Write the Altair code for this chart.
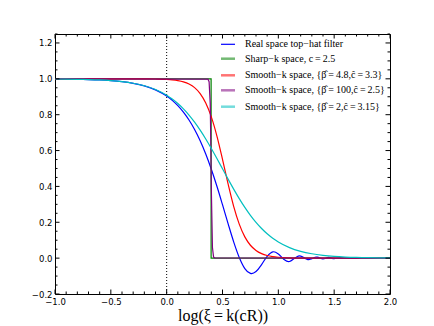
import altair as alt
import pandas as pd

# ---- data (x = log(xi), y = window function W) ----
tophat_L = [-1.0, -0.9, -0.8, -0.7, -0.6, -0.5, -0.4, -0.3, -0.2, -0.1, 0.0,
            0.05, 0.1, 0.15, 0.2, 0.25, 0.3, 0.35, 0.4, 0.45, 0.5, 0.55, 0.6,
            0.65, 0.7, 0.75, 0.7606, 0.8, 0.85, 0.9, 0.95, 0.9588, 1.0, 1.05,
            1.0907, 1.1, 1.15, 1.1907, 1.2, 1.25, 1.2716, 1.3, 1.3395, 1.35,
            1.4, 1.45, 1.5, 1.55, 1.6, 1.65, 1.7, 1.75, 1.8, 1.85, 1.9, 1.95, 2.0]
tophat_W = [0.9990, 0.9984, 0.9975, 0.9960, 0.9937, 0.9900, 0.9842, 0.9751, 0.9608,
            0.9383, 0.9036, 0.8796, 0.8502, 0.8142, 0.7703, 0.7175, 0.6546, 0.5807,
            0.4958, 0.4007, 0.2980, 0.1923, 0.0910, 0.0039, -0.0580, -0.0853,
            -0.0862, -0.0750, -0.0358, 0.0102, 0.0350, 0.0356, 0.0235, -0.0074,
            -0.0196, -0.0189, 0.0009, 0.0124, 0.0117, -0.0051, -0.0086, -0.0031,
            0.0063, 0.0054, -0.0048, 0.0038, -0.0029, 0.0014, 0.0010, -0.0011,
            -0.0012, -0.0009, -0.0007, 0.0001, 0.0003, -0.0002, -0.0003]

sharp_L = [-1.0, 0.398, 0.398, 2.0]
sharp_W = [1.0, 1.0, 0.0, 0.0]

smooth48_L = [-1.0, -0.5, -0.3, -0.2, -0.1, 0.0, 0.05, 0.1, 0.15, 0.2, 0.25, 0.3,
              0.35, 0.4, 0.45, 0.5, 0.55, 0.6, 0.65, 0.7, 0.75, 0.8, 0.85, 0.9,
              0.95, 1.0, 1.1, 1.2, 1.4, 2.0]
smooth48_W = [1.0, 1.0, 0.9999, 0.9996, 0.9989, 0.9968, 0.9944, 0.9903, 0.9833,
              0.9712, 0.9511, 0.9180, 0.8656, 0.7876, 0.6807, 0.5510, 0.4139,
              0.2889, 0.1895, 0.1186, 0.0719, 0.0427, 0.0250, 0.0145, 0.0084,
              0.0049, 0.0016, 0.0005, 0.0001, 0.0]

smooth100_L = [-1.0, 0.37, 0.38, 0.39, 0.395, 0.40, 0.41, 0.42, 0.43, 2.0]
smooth100_W = [1.0, 0.998, 0.984, 0.863, 0.663, 0.384, 0.059, 0.006, 0.001, 0.0]

smooth2_L = [-1.0, -0.9, -0.8, -0.7, -0.6, -0.5, -0.4, -0.3, -0.2, -0.1, 0.0,
             0.05, 0.1, 0.15, 0.2, 0.25, 0.3, 0.35, 0.4, 0.45, 0.5, 0.55, 0.6,
             0.65, 0.7, 0.75, 0.8, 0.85, 0.9, 0.95, 1.0, 1.1, 1.2, 1.3, 1.4, 1.5,
             1.6, 1.7, 1.8, 1.9, 2.0]
smooth2_W = [0.9990, 0.9984, 0.9975, 0.9960, 0.9937, 0.9900, 0.9843, 0.9753, 0.9614,
             0.9403, 0.9085, 0.8875, 0.8624, 0.8327, 0.7982, 0.7585, 0.7138, 0.6646,
             0.6115, 0.5556, 0.4981, 0.4407, 0.3850, 0.3321, 0.2831, 0.2388, 0.1995,
             0.1653, 0.1359, 0.1110, 0.0903, 0.0589, 0.0380, 0.0243, 0.0155, 0.0098,
             0.0062, 0.0039, 0.0025, 0.0016, 0.0010]

legend_labels = [
    "Real space top\u2212hat filter",
    "Sharp\u2212k space, c\u2009=\u20092.5",
    "Smooth\u2212k space, {\u03b2\u0302\u2009=\u20094.8,\u0109\u2009=\u20093.3}",
    "Smooth\u2212k space, {\u03b2\u0302\u2009=\u2009100,\u0109\u2009=\u20092.5}",
    "Smooth\u2212k space, {\u03b2\u0302\u2009=\u20092,\u0109\u2009=\u20093.15}",
]
series_colors = ["#0000ff", "#008000", "#ff0000", "#800080", "#00bfbf"]

x_major = [-1.0, -0.5, 0.0, 0.5, 1.0, 1.5, 2.0]
x_minor = [-0.9, -0.8, -0.7, -0.6, -0.4, -0.3, -0.2, -0.1, 0.1, 0.2, 0.3, 0.4,
           0.6, 0.7, 0.8, 0.9, 1.1, 1.2, 1.3, 1.4, 1.6, 1.7, 1.8, 1.9]
y_major = [-0.2, 0.0, 0.2, 0.4, 0.6, 0.8, 1.0, 1.2]
y_minor = [-0.15, -0.1, -0.05, 0.05, 0.1, 0.15, 0.25, 0.3, 0.35, 0.45, 0.5, 0.55,
           0.65, 0.7, 0.75, 0.85, 0.9, 0.95, 1.05, 1.1, 1.15, 1.25]
vline_at = [0.0]

# ---- layout ----
W, H = 335, 260
MAJ, MIN = 4.5, 2.5

xscale = alt.Scale(domain=[-1.0, 2.0], nice=False, zero=False)
yscale = alt.Scale(domain=[-0.2, 1.25], nice=False, zero=False)
xaxis = alt.Axis(values=x_major, format=".1f", ticks=False, domain=False, grid=False,
                 labelFont="DejaVu Sans", labelFontSize=8.5, labelColor="black",
                 labelPadding=3, labelFlush=False, labelOverlap=False,
                 title="log(\u03be\u2009=\u2009k(cR))", titleFont="Liberation Serif",
                 titleFontSize=16, titleFontWeight="normal", titleColor="black",
                 titlePadding=2)
yaxis = alt.Axis(values=y_major, format=".1f", ticks=False, domain=False, grid=False,
                 labelFont="DejaVu Sans", labelFontSize=8.5, labelColor="black",
                 labelPadding=3, labelFlush=False, labelOverlap=False, title=None)


def line_layer(xs, ys, color, interp, width=1.2):
    df = pd.DataFrame({"L": xs, "W": ys, "i": list(range(len(xs)))})
    return alt.Chart(df).mark_line(color=color, strokeWidth=width,
                                   interpolate=interp, clip=True).encode(
        x=alt.X("L:Q", scale=xscale, axis=xaxis),
        y=alt.Y("W:Q", scale=yscale, axis=yaxis),
        order="i:Q",
    )


def xticks(vals, y0, y1):
    return alt.Chart(pd.DataFrame({"v": vals})).mark_rule(color="black", strokeWidth=1).encode(
        x=alt.X("v:Q", scale=xscale, axis=xaxis), y=alt.value(y0), y2=alt.value(y1))


def yticks(vals, x0, x1):
    return alt.Chart(pd.DataFrame({"v": vals})).mark_rule(color="black", strokeWidth=1).encode(
        y=alt.Y("v:Q", scale=yscale, axis=yaxis), x=alt.value(x0), x2=alt.value(x1))


layers = [
    alt.Chart(pd.DataFrame({"v": vline_at})).mark_rule(
        color="black", strokeWidth=1, strokeDash=[1, 2]).encode(
        x=alt.X("v:Q", scale=xscale, axis=xaxis)),
    line_layer(tophat_L, tophat_W, series_colors[0], "monotone"),
    line_layer(sharp_L, sharp_W, series_colors[1], "linear"),
    line_layer(smooth48_L, smooth48_W, series_colors[2], "monotone"),
    line_layer(smooth100_L, smooth100_W, series_colors[3], "linear"),
    line_layer(smooth2_L, smooth2_W, series_colors[4], "monotone"),
    xticks(x_major, H, H - MAJ), xticks(x_major, 0, MAJ),
    xticks(x_minor, H, H - MIN), xticks(x_minor, 0, MIN),
    yticks(y_major, 0, MAJ), yticks(y_major, W, W - MAJ),
    yticks(y_minor, 0, MIN), yticks(y_minor, W, W - MIN),
]

legend_y = [10.3, 24.7, 41.3, 56.3, 72.7]
for k, (lab, col) in enumerate(zip(legend_labels, series_colors)):
    first = k == 0
    layers.append(
        alt.Chart(pd.DataFrame({"a": [0]})).mark_rule(
            color=col, strokeWidth=1.2 if first else 2.5,
            opacity=1.0 if first else 0.55).encode(
            x=alt.value(166), x2=alt.value(180), y=alt.value(legend_y[k])))
    layers.append(
        alt.Chart(pd.DataFrame({"a": [0]})).mark_text(
            align="left", baseline="middle", font="Liberation Serif",
            fontSize=10, color="black").encode(
            x=alt.value(190), y=alt.value(legend_y[k]), text=alt.value(lab)))

chart = alt.layer(*layers).properties(
    width=W, height=H,
    autosize=alt.AutoSizeParams(type="none"),
    padding={"left": 47, "top": 26, "right": 20, "bottom": 32},
    background="white",
).configure_view(stroke="black", strokeWidth=1)

chart.save("out.html", embed_options={"renderer": "svg", "actions": False})
